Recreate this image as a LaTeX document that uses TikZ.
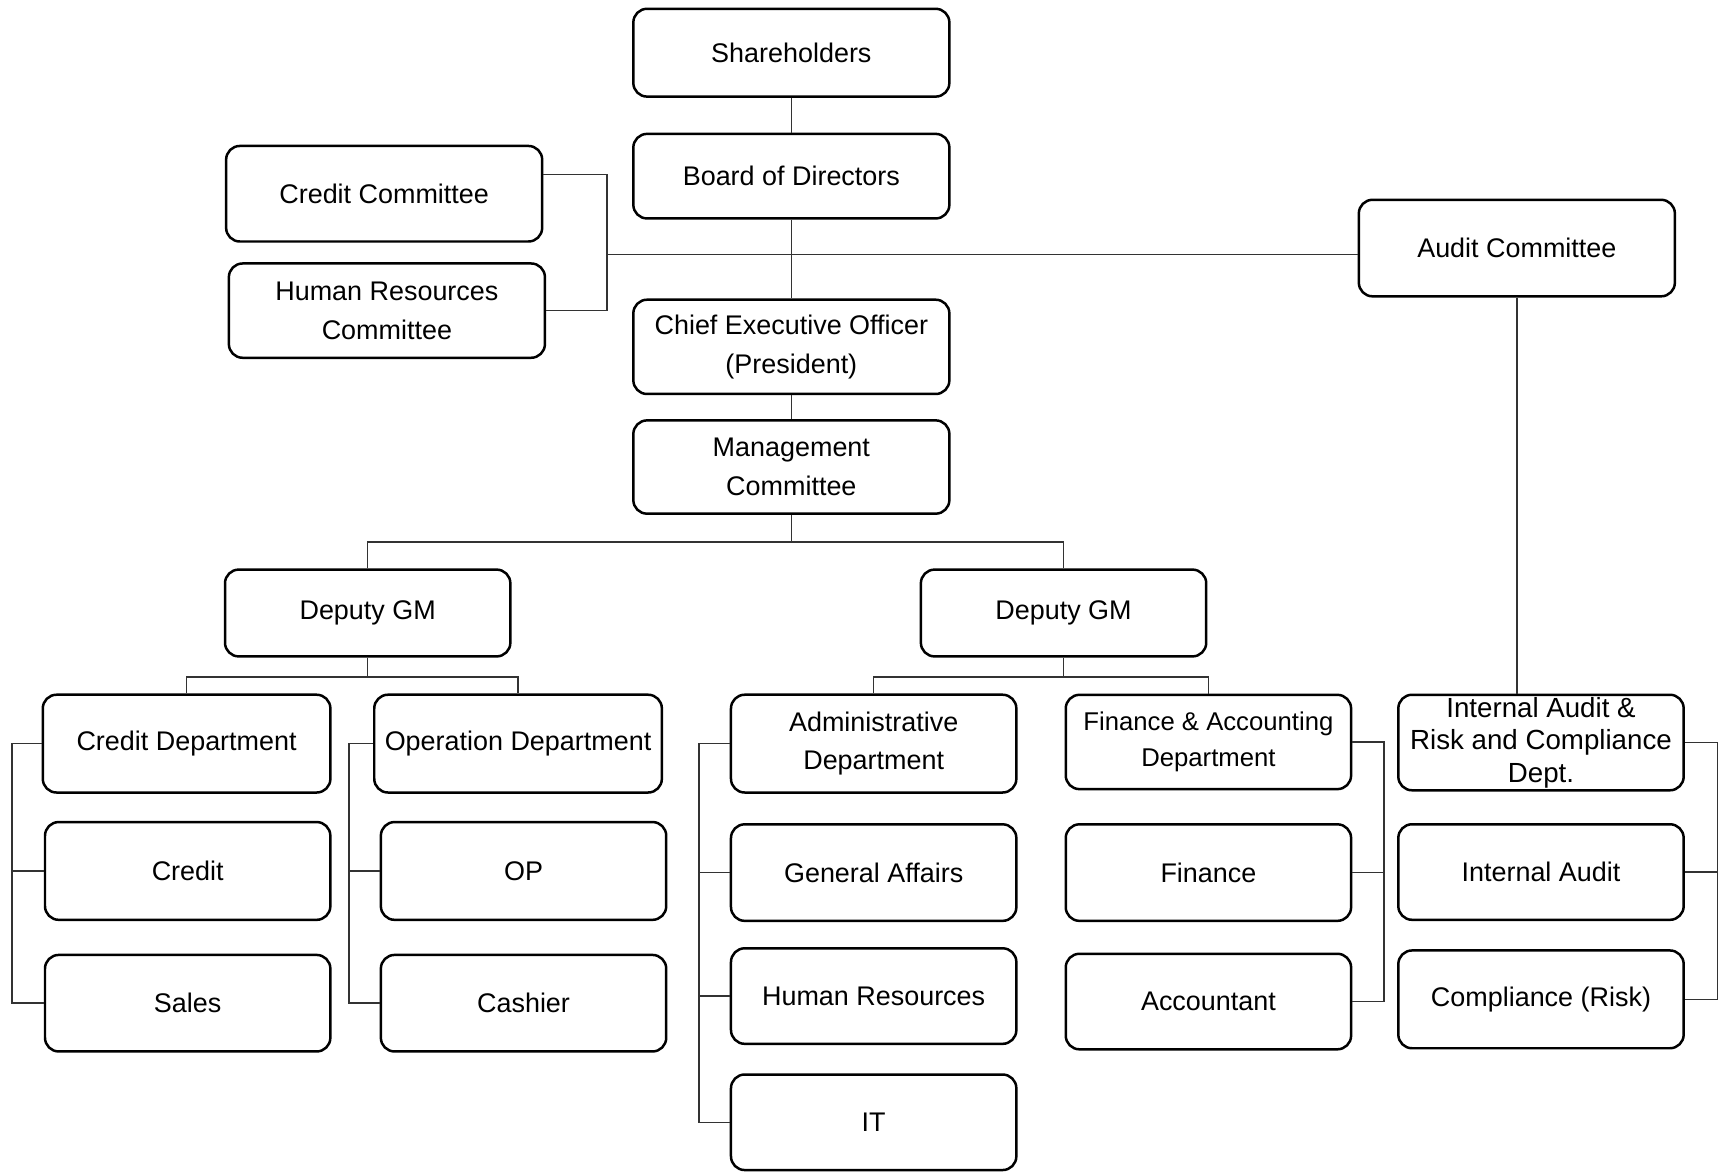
\documentclass[tikz,border=0pt]{standalone}
\usepackage{fontspec}
\setmainfont{Liberation Sans}
\begin{document}
\begin{tikzpicture}[x=0.44pt,y=-0.44pt,
  box/.style={draw=black, line width=1pt, rounded corners=5.5pt, align=center, inner sep=0pt,
    font=\fontsize{10.8}{15.5}\selectfont, text=black},
  wide/.style={box, minimum width=126.7pt},
  dept/.style={box, minimum width=114.4pt},
  link/.style={draw=black!80, line width=0.6pt}]
\useasboundingbox (0,0) rectangle (1568,1068);

% top chain
\node[wide, minimum height=35.2pt] (sh) at (721,48) {Shareholders};
\node[wide, minimum height=33.9pt] (bod) at (721,160.5) {Board of Directors};
\node[wide, minimum height=38.3pt] (cc) at (350,176.5) {Credit Committee};
\node[wide, minimum height=37.8pt] (hrc) at (352.5,283) {Human Resources\\Committee};
\node[wide, minimum height=38.7pt] (ac) at (1382,226) {Audit Committee};
\node[wide, minimum height=37.8pt] (ceo) at (721,316) {Chief Executive Officer\\(President)};
\node[wide, minimum height=37.4pt] (mc) at (721,425.5) {Management\\Committee};

% deputies
\node[dept, minimum height=34.8pt] (dgl) at (335,558.5) {Deputy GM};
\node[dept, minimum height=34.8pt] (dgr) at (969,558.5) {Deputy GM};

% left group
\node[dept, minimum height=39.2pt, minimum width=115.3pt] (cd) at (170,677.5) {Credit Department};
\node[dept, minimum height=39.2pt, minimum width=115.3pt] (od) at (472,677.5) {Operation Department};
\node[dept, minimum height=39.2pt] (cr) at (171,793.5) {Credit};
\node[dept, minimum height=39.2pt] (op) at (477,793.5) {OP};
\node[dept, minimum height=38.7pt] (sa) at (171,914) {Sales};
\node[dept, minimum height=38.7pt] (ca) at (477,914) {Cashier};

% right group
\node[dept, minimum height=39.2pt] (ad) at (796,677.5) {Administrative\\Department};
\node[dept, minimum height=38.7pt] (ga) at (796,795) {General Affairs};
\node[dept, minimum height=38.3pt] (hr) at (796,907.5) {Human Resources};
\node[dept, minimum height=38.3pt] (it) at (796,1022.5) {IT};
\node[dept, minimum height=37.8pt, font=\fontsize{10.3}{14.5}\selectfont] (fa) at (1101,676) {Finance \& Accounting\\Department};
\node[dept, minimum height=38.7pt] (fi) at (1101,795) {Finance};
\node[dept, minimum height=38.3pt] (acc) at (1101,912.5) {Accountant};

% audit group
\node[dept, minimum height=38.3pt, font=\fontsize{11.1}{13}\selectfont] (ia) at (1404,676.5) {Internal Audit \&\\Risk and Compliance\\Dept.};
\node[dept, minimum height=38.3pt] (iau) at (1404,794.5) {Internal Audit};
\node[dept, minimum height=39.2pt] (co) at (1404,910.5) {Compliance (Risk)};

% connectors: top
\draw[link] (sh) -- (bod);
\draw[link] (bod) -- (ceo);
\draw[link] (ceo) -- (mc);
\coordinate (cbar) at (553,232);
\draw[link] ([yshift=7.7pt]cc.east) -| (cbar |- hrc.east) -- (hrc.east);
\draw[link] (cbar) -- (cbar -| ac.west);
\draw[link] (ac.south) -- (ac.south |- ia.north);

% management to deputies
\coordinate (m1) at (721,494);
\draw[link] (mc.south) -- (m1);
\draw[link] (dgl.north) |- (m1) -| (dgr.north);

% deputies to departments
\coordinate (d1) at (335,617);
\draw[link] (dgl.south) -- (d1);
\draw[link] (cd.north) |- (d1) -| (od.north);
\coordinate (d2) at (969,617);
\draw[link] (dgr.south) -- (d2);
\draw[link] (ad.north) |- (d2) -| (fa.north);

% brackets
\coordinate (bx1) at (11,0);
\draw[link] (cd.west) -| (bx1 |- sa.west) -- (sa.west);
\draw[link] (cr.west) -- (bx1 |- cr.west);
\coordinate (bx2) at (318,0);
\draw[link] (od.west) -| (bx2 |- ca.west) -- (ca.west);
\draw[link] (op.west) -- (bx2 |- op.west);
\coordinate (bx3) at (637,0);
\draw[link] (ad.west) -| (bx3 |- it.west) -- (it.west);
\draw[link] (ga.west) -- (bx3 |- ga.west);
\draw[link] (hr.west) -- (bx3 |- hr.west);
\coordinate (bx4) at (1261,0);
\draw[link] (fa.east) -| (bx4 |- acc.east) -- (acc.east);
\draw[link] (fi.east) -- (bx4 |- fi.east);
\coordinate (bx5) at (1565,0);
\draw[link] (ia.east) -| (bx5 |- co.east) -- (co.east);
\draw[link] (iau.east) -- (bx5 |- iau.east);
\end{tikzpicture}
\end{document}
